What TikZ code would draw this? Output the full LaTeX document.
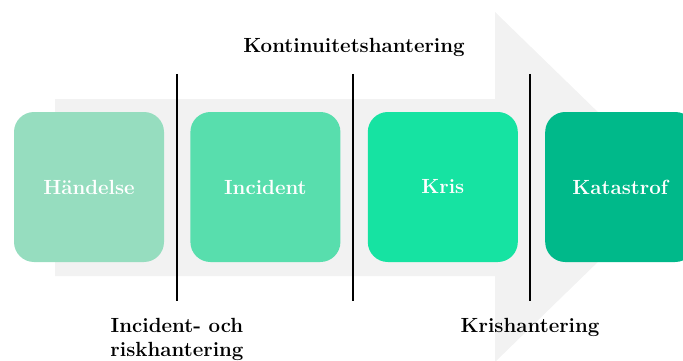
\documentclass[tikz,border=0pt]{standalone}
\usepackage{fontspec}
\usetikzlibrary{positioning}
\definecolor{pilgra}{HTML}{F2F2F2}
\definecolor{fashandelse}{HTML}{96DDBF}
\definecolor{fasincident}{HTML}{58DEAD}
\definecolor{faskris}{HTML}{16E3A2}
\definecolor{faskatastrof}{HTML}{00B98A}
\begin{document}
\begin{tikzpicture}[x=1pt,y=-1pt,every node/.style={inner sep=2pt},
      fas/.style={minimum width=150pt,minimum height=150pt,rounded corners=20pt,
        text=white,font=\fontsize{20.5}{24}\selectfont\bfseries},
      niva/.style={font=\fontsize{20.5}{24}\selectfont\bfseries,align=center}]
      \useasboundingbox(0,0)rectangle(683,361);
      \clip(0,0)rectangle(683,361);
      \fill[pilgra](55,99)--(495,99)--(495,12)--(675,187)--(495,362)--(495,276)
         --(55,276)--cycle;
      \node[fas,fill=fashandelse](handelse)at(89,187){Händelse};
      \node[fas,fill=fasincident,right=26pt of handelse](incident){Incident};
      \node[fas,fill=faskris,right=27pt of incident](kris){Kris};
      \node[fas,fill=faskatastrof,right=27pt of kris](katastrof){Katastrof};
      \foreach \x/\n in {177/a,353/b,530/c}{
        \coordinate(\n top)at(\x,74);
        \coordinate(\n bot)at(\x,301);
        \draw[line width=2pt](\n top)--(\n bot);}
      \node[niva](kont)at(354,47){Kontinuitetshantering};
      \node[niva](inc)at(177,339){Incident- och\\riskhantering};
      \node[niva](krish)at(530,327){Krishantering};
    \end{tikzpicture}
\end{document}
